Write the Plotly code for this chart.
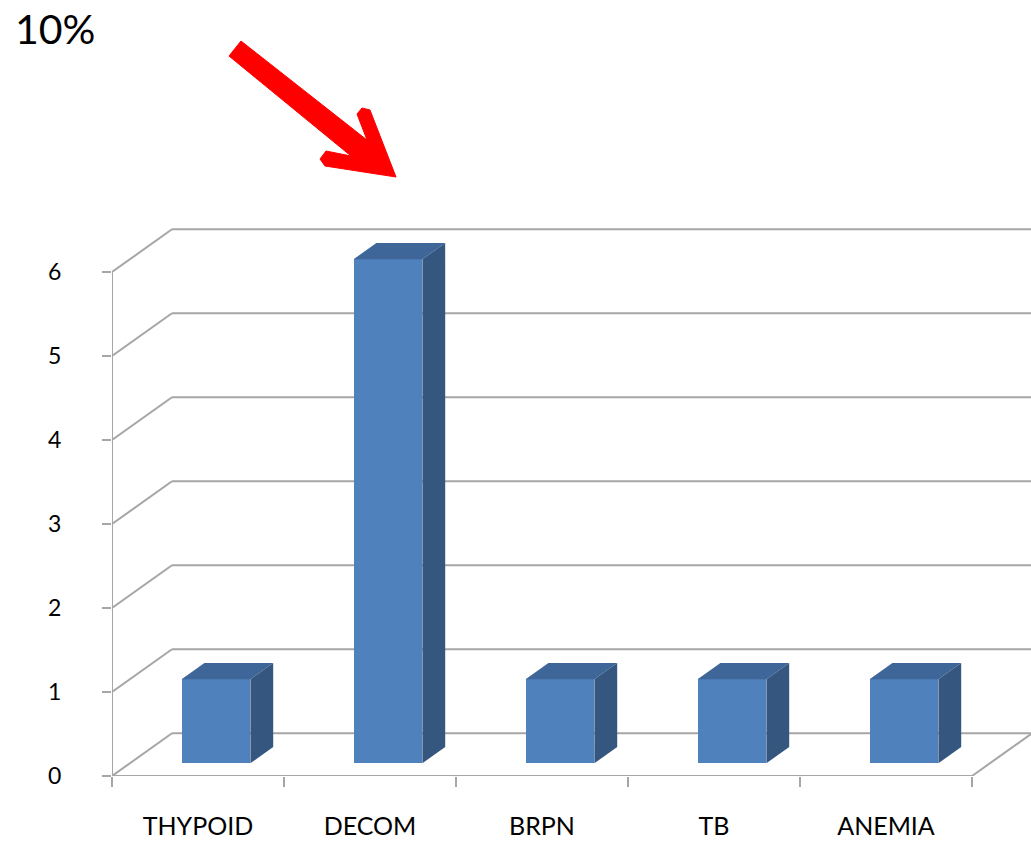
import plotly.graph_objects as go

categories = ["THYPOID", "DECOM", "BRPN", "TB", "ANEMIA"]
values = [1, 6, 1, 1, 1]
y_ticks = [0, 1, 2, 3, 4, 5, 6]
title_text = "10%"

W, H = 1031, 842
ML, MR, MT, MB = 112, 0, 220, 66
px_per_cat = 172.0
px_per_unit = 84.0
plot_w = W - ML - MR
plot_h = H - MT - MB

# 3D depth of the chart (in data units)
D = 60 / px_per_cat
DZ = 42.7 / px_per_unit
f_front = 0.30   # bar front face depth fraction
f_depth = 0.38   # bar depth fraction
bar_w = 0.40

front_col = "#4F81BD"
top_col = "#3E6698"
side_col = "#35577F"
grid_col = "#A6A6A6"

n = len(categories)
xs = list(range(n))
x_lo = -0.5
x_hi = x_lo + plot_w / px_per_cat
y_hi = plot_h / px_per_unit

fig = go.Figure()

base = f_front * DZ
bar_x = [i + f_front * D for i in xs]
fig.add_trace(go.Bar(
    x=bar_x, y=values, base=[base] * n, width=bar_w,
    marker=dict(color=front_col, line=dict(width=0)),
    hoverinfo="skip", showlegend=False,
))

shapes = []
# back wall gridlines + left wall diagonals
for k in y_ticks:
    shapes.append(dict(type="line", xref="x", yref="y", layer="below",
                       x0=x_lo, y0=k, x1=x_lo + D, y1=k + DZ,
                       line=dict(color=grid_col, width=2)))
    shapes.append(dict(type="line", xref="x", yref="y", layer="below",
                       x0=x_lo + D, y0=k + DZ, x1=n - 0.5 + D, y1=k + DZ,
                       line=dict(color=grid_col, width=2)))
# floor front edge and right edge
shapes.append(dict(type="line", xref="x", yref="y", layer="below",
                   x0=x_lo, y0=0, x1=n - 0.5, y1=0,
                   line=dict(color=grid_col, width=2)))
shapes.append(dict(type="line", xref="x", yref="y", layer="below",
                   x0=n - 0.5, y0=0, x1=n - 0.5 + D, y1=DZ,
                   line=dict(color=grid_col, width=2)))
# front vertical axis
shapes.append(dict(type="line", xref="x", yref="y", layer="below",
                   x0=x_lo, y0=0, x1=x_lo, y1=max(y_ticks),
                   line=dict(color=grid_col, width=2)))

# bar top and side faces
d = f_depth * D
e = f_depth * DZ
for xc, v in zip(bar_x, values):
    xl, xr = xc - bar_w / 2, xc + bar_w / 2
    top = base + v
    shapes.append(dict(type="path", xref="x", yref="y", layer="above",
                       path=f"M{xl},{top} L{xl + d},{top + e} L{xr + d},{top + e} L{xr},{top} Z",
                       fillcolor=top_col, line=dict(width=0)))
    shapes.append(dict(type="path", xref="x", yref="y", layer="above",
                       path=f"M{xr},{base} L{xr},{top} L{xr + d},{top + e} L{xr + d},{base + e} Z",
                       fillcolor=side_col, line=dict(width=0)))

# red arrow (decoration), given in pixel positions -> paper coords
def P(px, py):
    return ((px - ML) / plot_w, (H - MB - py) / plot_h)

pts = [(241, 41), (367, 140), (357, 114), (362, 108), (370, 110),
       (396, 177), (325, 166), (320, 159), (326, 151), (351, 156), (229, 56)]
path = "M" + " L".join(f"{P(*p)[0]},{P(*p)[1]}" for p in pts) + " Z"
shapes.append(dict(type="path", xref="paper", yref="paper", layer="above",
                   path=path, fillcolor="#FF0000", line=dict(color="#FF0000", width=1)))

fig.update_layout(
    width=W, height=H,
    margin=dict(l=ML, r=MR, t=MT, b=MB, pad=0),
    paper_bgcolor="white", plot_bgcolor="white",
    shapes=shapes,
    font=dict(family="Lato, 'Open Sans', sans-serif", color="#000000"),
    xaxis=dict(range=[x_lo, x_hi], tickmode="array", tickvals=xs, ticktext=categories,
               ticks="", showgrid=False, zeroline=False, showline=False,
               automargin=False,
               tickfont=dict(size=25), ticklabelstandoff=33,
               minor=dict(tickmode="array", tickvals=[i - 0.5 for i in range(n + 1)],
                          ticks="outside", ticklen=10, tickwidth=2, tickcolor=grid_col,
                          showgrid=False)),
    yaxis=dict(range=[0, y_hi], tickmode="array", tickvals=y_ticks,
               ticks="outside", ticklen=9, tickwidth=2, tickcolor=grid_col,
               showgrid=False, zeroline=False, showline=False,
               automargin=False,
               tickfont=dict(size=23), ticklabelstandoff=36),
    annotations=[dict(text=title_text, xref="paper", yref="paper",
                      x=P(13, 0)[0], y=P(0, 29)[1], xanchor="left", yanchor="middle",
                      showarrow=False, font=dict(size=41, color="#000000"))],
    bargap=0,
)

fig.write_html("out.html")
